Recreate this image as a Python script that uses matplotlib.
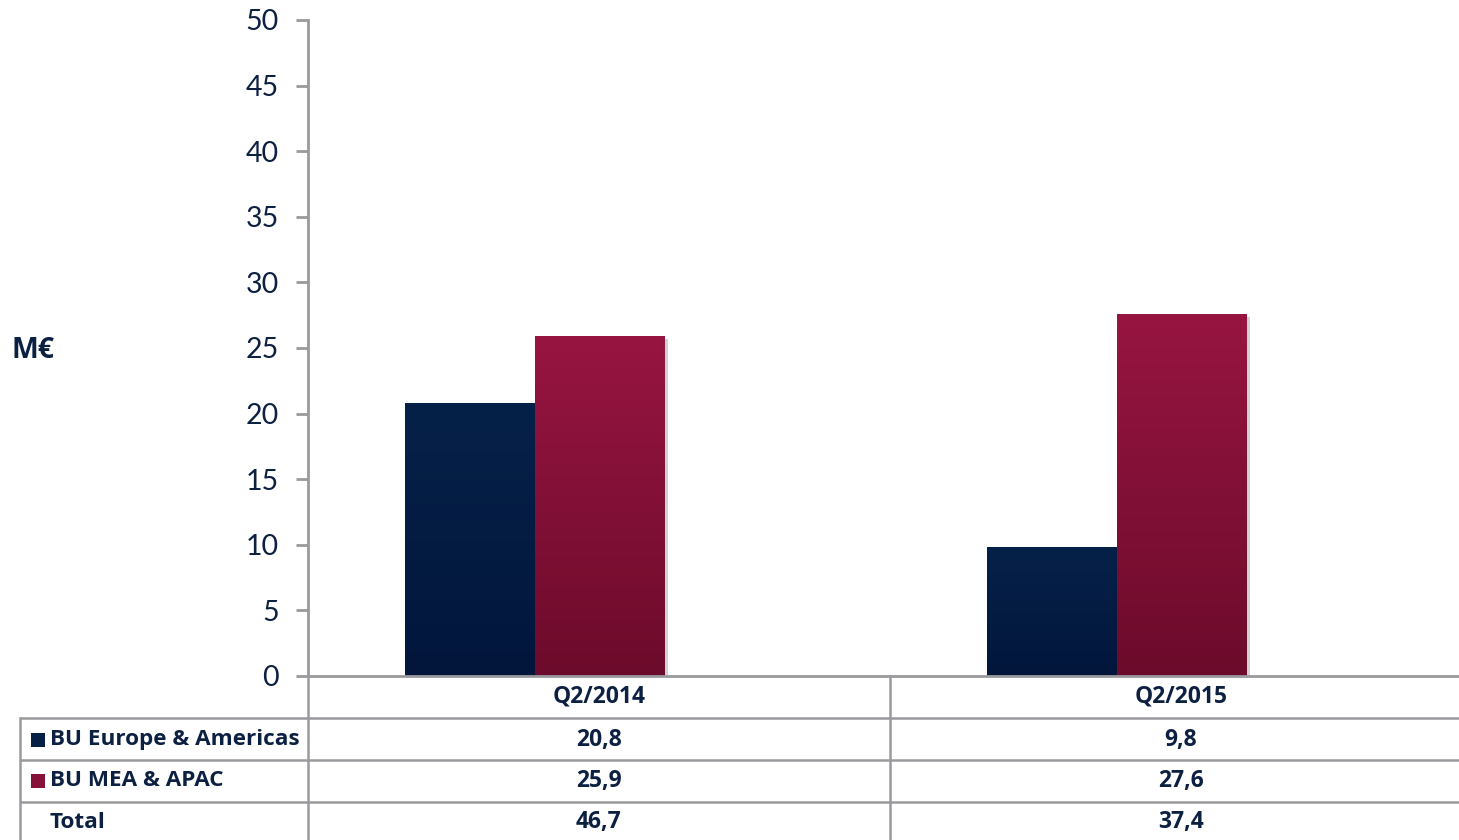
import numpy as np
import matplotlib
matplotlib.use("Agg")
import matplotlib.pyplot as plt
from matplotlib.colors import LinearSegmentedColormap
from matplotlib.patches import Rectangle
import matplotlib.patheffects as pe

# ---- data ----
categories = ["Q2/2014", "Q2/2015"]
series_names = ["BU Europe & Americas", "BU MEA & APAC"]
europe_americas = [20.8, 9.8]
mea_apac = [25.9, 27.6]
totals = [46.7, 37.4]
y_ticks = [0, 5, 10, 15, 20, 25, 30, 35, 40, 45, 50]

NAVY_TXT = "#0C2042"
GRID = "#9A9A9E"
FONT = "Lato"
BFONT = "Open Sans"

W, H = 1459, 840
fig = plt.figure(figsize=(W / 100, H / 100), dpi=100)

# main axes: 0 at y=676px, 50 at y=20px, left at x=308px
ax_left, ax_bottom = 308 / W, 1 - 676 / H
ax_h = (676 - 20) / H
ax = fig.add_axes([ax_left, ax_bottom, 1 - ax_left, ax_h])
col_px = 582.0
xmax = (W - 308) / col_px

navy_cols = ("#02163C", "#062148")
red_cols = ("#6C0B2B", "#971541")
cmap_navy = LinearSegmentedColormap.from_list("navy", list(navy_cols))
cmap_red = LinearSegmentedColormap.from_list("red", list(red_cols))

bar_w = 130 / col_px
group_center_offset = -0.11
x = np.arange(len(categories)) + 0.5 + group_center_offset

shadow = [pe.SimplePatchShadow(offset=(2.5, -2), shadow_rgbFace="#6a6a6a", alpha=0.3), pe.Normal()]

def grad_bars(xs, vals, cmap, base):
    bars = ax.bar(xs, vals, width=bar_w, align="edge",
                  color=base, edgecolor="none", zorder=2, path_effects=shadow)
    for b in bars:
        x0, w, h = b.get_x(), b.get_width(), b.get_height()
        grad = np.linspace(0, 1, 256).reshape(-1, 1)
        im = ax.imshow(grad, cmap=cmap, origin="lower", aspect="auto",
                       extent=[x0, x0 + w, 0, h], zorder=2.1, interpolation="bilinear")
        im.set_clip_path(b)
    return bars

grad_bars(x - bar_w, europe_americas, cmap_navy, navy_cols[0])
grad_bars(x, mea_apac, cmap_red, red_cols[0])
ax.set_xlim(0, xmax)
ax.set_ylim(0, 50)

for s in ["top", "right"]:
    ax.spines[s].set_visible(False)
ax.spines["left"].set_color(GRID)
ax.spines["left"].set_linewidth(2)
ax.spines["bottom"].set_color(GRID)
ax.spines["bottom"].set_linewidth(2)
ax.spines["left"].set_zorder(3)
ax.spines["bottom"].set_zorder(3)
ax.set_xticks([])
ax.set_yticks(y_ticks)
ax.set_yticklabels([str(t) for t in y_ticks], fontsize=20.5, color=NAVY_TXT, family=FONT)
ax.tick_params(axis="y", length=9, width=2, color=GRID, pad=12)
ax.set_facecolor("none")

# ---- overlay for table in pixel coords ----
ov = fig.add_axes([0, 0, 1, 1], zorder=5)
ov.set_xlim(0, W)
ov.set_ylim(H, 0)
ov.axis("off")
ov.patch.set_alpha(0)

lw = 1.8
row_lines = [718, 760, 802]
for yl in row_lines:
    ov.plot([20, W], [yl, yl], color=GRID, lw=lw, solid_capstyle="butt")
ov.plot([20, 20], [718, H], color=GRID, lw=lw)
ov.plot([308, 308], [676, H], color=GRID, lw=lw)
ov.plot([890, 890], [676, H], color=GRID, lw=lw)

col_centers = [308 + col_px * (i + 0.5) for i in range(len(categories))]
fmt = lambda v: f"{v:.1f}".replace(".", ",")
tkw = dict(color=NAVY_TXT, family=BFONT, fontweight="bold", fontsize=16.5,
           ha="center", va="center")
for i, c in enumerate(categories):
    ov.text(col_centers[i], 697, c, **tkw)
    ov.text(col_centers[i], 740, fmt(europe_americas[i]), **tkw)
    ov.text(col_centers[i], 781, fmt(mea_apac[i]), **tkw)
    ov.text(col_centers[i], 822, fmt(totals[i]), **tkw)

lkw = dict(color=NAVY_TXT, family=BFONT, fontweight="bold", fontsize=16.2,
           ha="left", va="center")
ov.add_patch(Rectangle((31, 733), 14, 14, facecolor="#061F45", edgecolor="none"))
ov.add_patch(Rectangle((31, 774), 14, 14, facecolor="#86123A", edgecolor="none"))
ov.text(50, 740, series_names[0], **lkw)
ov.text(50, 781, series_names[1], **lkw)
ov.text(50, 822, "Total", **lkw)

ov.text(12, 350, "M€", color=NAVY_TXT, family=BFONT, fontweight="bold", fontsize=20.5,
        ha="left", va="center")

fig.savefig("out.png", dpi=100)
